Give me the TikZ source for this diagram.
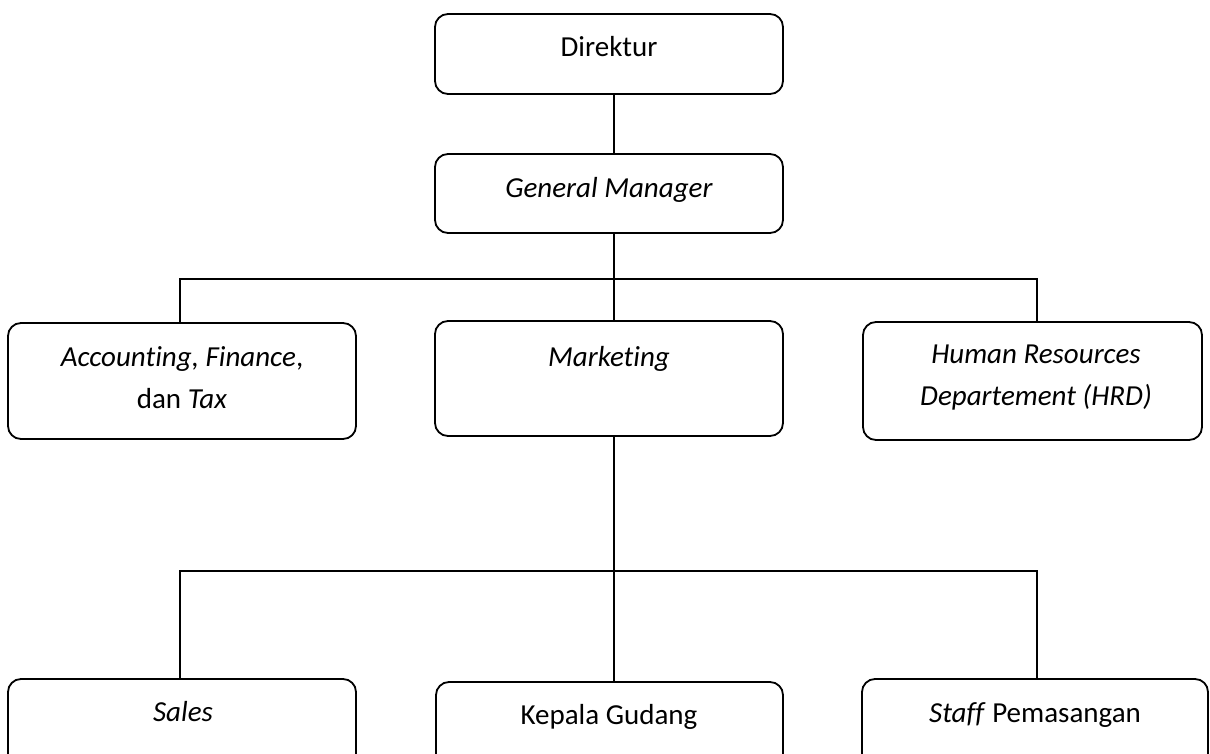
\documentclass[tikz,border=0pt]{standalone}
\usepackage{fontspec}
\setmainfont{Carlito}[Ligatures=CommonOff]
\begin{document}
\begin{tikzpicture}[x=1pt,y=-1pt,line width=1.8pt,
  box/.style={draw,rounded corners=13pt,inner sep=0pt,minimum width=348pt},
  txt/.style={anchor=base,inner sep=0pt,align=center,font=\fontsize{29}{42}\selectfont}]
\clip (0,0) rectangle (1210,754);
\fill[white] (0,0) rectangle (1210,754);
% boxes
\node[box,minimum height=80pt] (dir) at (609,54) {};
\node[box,minimum height=79pt] (gm) at (609,193.5) {};
\node[box,minimum height=116pt] (acc) at (182,381) {};
\node[box,minimum height=115pt] (mkt) at (609,378.5) {};
\node[box,minimum width=339pt,minimum height=118pt] (hrd) at (1032.5,381) {};
\node[box,minimum height=118pt] (sal) at (182,738) {};
\node[box,minimum width=347pt,minimum height=118pt] (kg) at (609.5,741) {};
\node[box,minimum width=346pt,minimum height=118pt] (stf) at (1035,738) {};
% texts
\node[txt] (tdir) at (609,57) {Direktur};
\node[txt] (tgm) at (609,198) {\textit{General Manager}};
\node[txt] (tacc) at (182,408) {\textit{Accounting, Finance},\\dan \textit{Tax}};
\node[txt] (tmkt) at (609,366) {\textit{Marketing}};
\node[txt] (thrd) at (1036,405) {\textit{Human Resources}\\\textit{Departement (HRD)}};
\node[txt] (tsal) at (183,721) {\textit{Sales}};
\node[txt] (tkg) at (609,724) {Kepala Gudang};
\node[txt] (tstf) at (1035,722) {\textit{Staff} Pemasangan};
% connector guides
\coordinate (sx) at (614,0);
\coordinate (lx) at (180,0);
\coordinate (rx) at (1037,0);
\coordinate (busa) at (0,279);
\coordinate (busb) at (0,571);
% connectors
\draw (dir.south -| sx) -- (gm.north -| sx);
\draw (gm.south -| sx) -- (mkt.north -| sx);
\draw (acc.north -| lx) -- (busa -| lx) -- (busa -| rx) -- (hrd.north -| rx);
\draw (mkt.south -| sx) -- (kg.north -| sx);
\draw (sal.north -| lx) -- (busb -| lx) -- (busb -| rx) -- (stf.north -| rx);
\end{tikzpicture}
\end{document}
